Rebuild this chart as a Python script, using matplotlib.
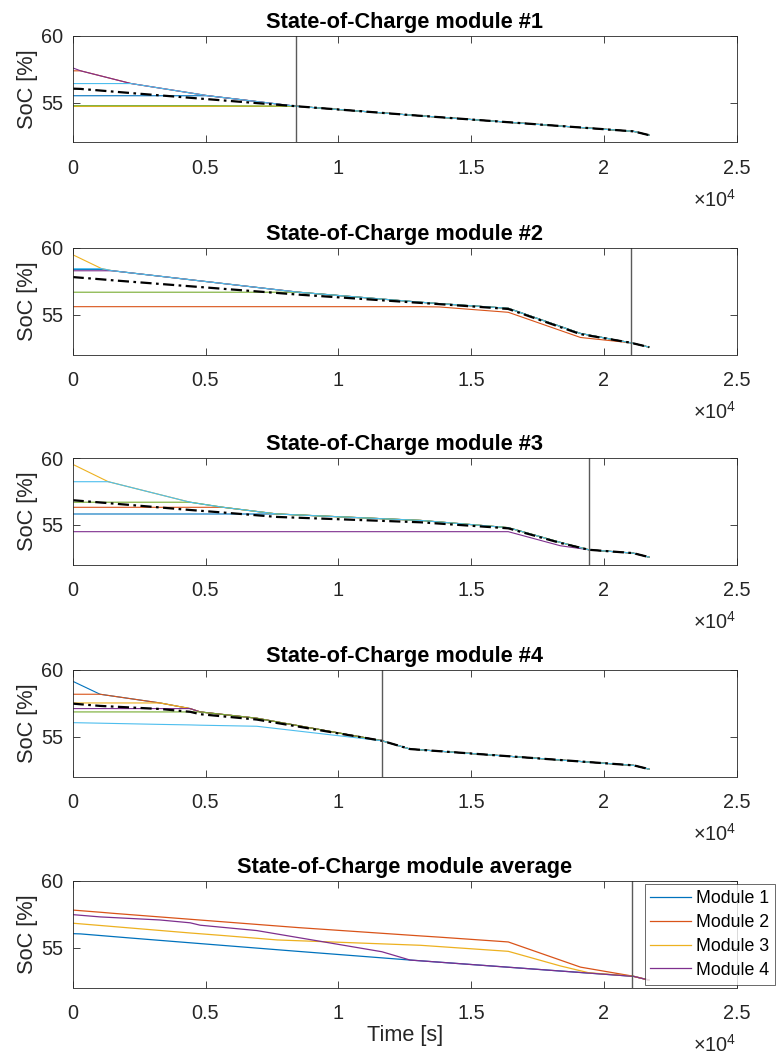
import matplotlib
matplotlib.use("Agg")
import matplotlib.pyplot as plt

plt.rcParams['font.family'] = ['Liberation Sans', 'DejaVu Sans']
plt.rcParams['mathtext.fontset'] = 'custom'
plt.rcParams['mathtext.rm'] = 'Liberation Sans'
plt.rcParams['mathtext.it'] = 'Liberation Sans:italic'
plt.rcParams['mathtext.bf'] = 'Liberation Sans:bold'

# ---------------------------------------------------------------- data
CELL_COLORS = ['#0072BD', '#D95319', '#EDB120', '#7E2F8E', '#77AC30', '#4DBEEE']
MODULE_NAMES = ['Module 1', 'Module 2', 'Module 3', 'Module 4']
TITLES = ['State-of-Charge module #1', 'State-of-Charge module #2',
          'State-of-Charge module #3', 'State-of-Charge module #4',
          'State-of-Charge module average']
X_TICKS = [0, 5000, 10000, 15000, 20000, 25000]
X_TICK_LABELS = ['0', '0.5', '1', '1.5', '2', '2.5']
Y_TICKS = [55, 60]

# Module 1 : time [s] and cell SoC [%]
m1_time = [0, 300, 2200, 5100, 8400, 12700, 21125, 21700]
m1_cells = [
    [55.54, 55.54, 55.54, 55.54, 54.76, 54.10, 52.88, 52.60],
    [57.40, 57.40, 56.45, 55.54, 54.76, 54.10, 52.88, 52.60],
    [54.74, 54.74, 54.74, 54.74, 54.76, 54.10, 52.88, 52.60],
    [57.62, 57.40, 56.45, 55.54, 54.76, 54.10, 52.88, 52.60],
    [54.80, 54.80, 54.80, 54.80, 54.76, 54.10, 52.88, 52.60],
    [56.45, 56.45, 56.45, 55.54, 54.76, 54.10, 52.88, 52.60],
]
m1_mean = [56.07, 56.05, 55.74, 55.28, 54.76, 54.10, 52.88, 52.60]

# Module 2
m2_time = [0, 1090, 1500, 8500, 13100, 13800, 16400, 19120, 21025, 21700]
m2_cells = [
    [58.40, 58.40, 58.30, 56.70, 55.95, 55.85, 55.50, 53.62, 52.92, 52.60],
    [55.62, 55.62, 55.62, 55.62, 55.62, 55.60, 55.20, 53.32, 52.92, 52.60],
    [59.50, 58.46, 58.30, 56.70, 55.95, 55.85, 55.50, 53.62, 52.92, 52.60],
    [58.30, 58.30, 58.30, 56.70, 55.95, 55.85, 55.50, 53.62, 52.92, 52.60],
    [56.70, 56.70, 56.70, 56.70, 55.95, 55.85, 55.50, 53.62, 52.92, 52.60],
    [58.46, 58.46, 58.30, 56.70, 55.95, 55.85, 55.50, 53.62, 52.92, 52.60],
]
m2_mean = [57.83, 57.66, 57.59, 56.52, 55.90, 55.81, 55.45, 53.57, 52.92, 52.60]

# Module 3
m3_time = [0, 1340, 4420, 5660, 7700, 13100, 16400, 18360, 19430, 21100, 21700]
m3_cells = [
    [55.82, 55.82, 55.82, 55.82, 55.82, 55.34, 54.80, 53.70, 53.15, 52.90, 52.60],
    [56.32, 56.32, 56.32, 56.32, 55.82, 55.34, 54.80, 53.70, 53.15, 52.90, 52.60],
    [59.53, 58.23, 56.70, 56.32, 55.82, 55.34, 54.80, 53.70, 53.15, 52.90, 52.60],
    [54.50, 54.50, 54.50, 54.50, 54.50, 54.50, 54.50, 53.45, 53.15, 52.90, 52.60],
    [56.70, 56.70, 56.70, 56.32, 55.82, 55.34, 54.80, 53.70, 53.15, 52.90, 52.60],
    [58.23, 58.23, 56.70, 56.32, 55.82, 55.34, 54.80, 53.70, 53.15, 52.90, 52.60],
]
m3_mean = [56.85, 56.63, 56.12, 55.93, 55.60, 55.20, 54.75, 53.66, 53.15, 52.90, 52.60]

# Module 4
m4_time = [0, 1030, 3290, 4420, 4800, 6930, 11640, 12700, 21125, 21700]
m4_cells = [
    [59.16, 58.19, 57.54, 57.12, 56.87, 56.40, 54.72, 54.10, 52.88, 52.60],
    [58.19, 58.19, 57.54, 57.12, 56.87, 56.40, 54.72, 54.10, 52.88, 52.60],
    [57.54, 57.54, 57.54, 57.12, 56.87, 56.40, 54.72, 54.10, 52.88, 52.60],
    [57.12, 57.12, 57.12, 57.12, 56.87, 56.40, 54.72, 54.10, 52.88, 52.60],
    [56.87, 56.87, 56.87, 56.87, 56.87, 56.40, 54.72, 54.10, 52.88, 52.60],
    [56.07, 56.03, 55.94, 55.90, 55.88, 55.80, 54.72, 54.10, 52.88, 52.60],
]
m4_mean = [57.49, 57.32, 57.09, 56.88, 56.70, 56.30, 54.72, 54.10, 52.88, 52.60]

# time at which each module finished balancing [s]
balance_time = [8400, 21025, 19430, 11640]
pack_balance_time = 21060

module_time = [m1_time, m2_time, m3_time, m4_time]
module_cells = [m1_cells, m2_cells, m3_cells, m4_cells]
module_mean = [m1_mean, m2_mean, m3_mean, m4_mean]

# ---------------------------------------------------------------- style
AX_COLOR = '#262626'
FS_TICK = 14.3
FS_LABEL = 15.7
FS_LEGEND = 12.8
W, H = 776, 1057
LEFT, RIGHT = 72.7, 736.7
AX_TOPS = [36, 248, 458, 670, 881]
AX_H = 106.5


def style_axes(ax, title):
    ax.set_xlim(0, 25000)
    ax.set_ylim(52.05, 60)
    ax.set_xticks(X_TICKS)
    ax.set_xticklabels(X_TICK_LABELS)
    ax.set_yticks(Y_TICKS)
    ax.tick_params(direction='in', top=True, right=True, length=5, width=0.6,
                   colors=AX_COLOR, labelsize=FS_TICK)
    ax.tick_params(axis='x', pad=12)
    ax.tick_params(axis='y', pad=7)
    for sp in ax.spines.values():
        sp.set_color(AX_COLOR)
        sp.set_linewidth(0.6)
    ax.set_title(title, fontsize=FS_LABEL, fontweight='bold', pad=5.8,
                 color='black')
    ax.set_ylabel('SoC [%]', fontsize=FS_LABEL, color=AX_COLOR, labelpad=2)
    ax.annotate(r'$\times 10^{4}$', xy=(1, 0), xycoords='axes fraction',
                xytext=(0, -41.5), textcoords='offset points', ha='right',
                va='center', fontsize=FS_TICK, color=AX_COLOR)


fig = plt.figure(figsize=(W / 100, H / 100), dpi=100)
axes = []
for top in AX_TOPS:
    axes.append(fig.add_axes([LEFT / W, 1 - (top + AX_H) / H,
                              (RIGHT - LEFT) / W, AX_H / H]))

# per-module cell plots
for i in range(4):
    ax = axes[i]
    for cell, color in zip(module_cells[i], CELL_COLORS):
        ax.plot(module_time[i], cell, color=color, lw=0.8)
    ax.plot(module_time[i], module_mean[i], color='black', lw=1.6,
            dashes=(5, 2, 1.2, 2))
    ax.axvline(balance_time[i], color='#5a5a5a', lw=1.0)
    style_axes(ax, TITLES[i])

# module averages
ax = axes[4]
for i in range(4):
    ax.plot(module_time[i], module_mean[i], color=CELL_COLORS[i], lw=0.9,
            label=MODULE_NAMES[i])
ax.axvline(pack_balance_time, color='#5a5a5a', lw=1.0)
style_axes(ax, TITLES[4])
ax.set_xlabel('Time [s]', fontsize=FS_LABEL, color=AX_COLOR, labelpad=1)
leg = ax.legend(loc='upper right', bbox_to_anchor=(775 / W, 1 - 884 / H),
                bbox_transform=fig.transFigure, fontsize=FS_LEGEND,
                frameon=True, fancybox=False, handlelength=2.26,
                handletextpad=0.3, labelspacing=0.39, borderpad=0.33,
                borderaxespad=0)
leg.get_frame().set_edgecolor(AX_COLOR)
leg.get_frame().set_linewidth(0.6)

fig.savefig('out.png', dpi=100)
